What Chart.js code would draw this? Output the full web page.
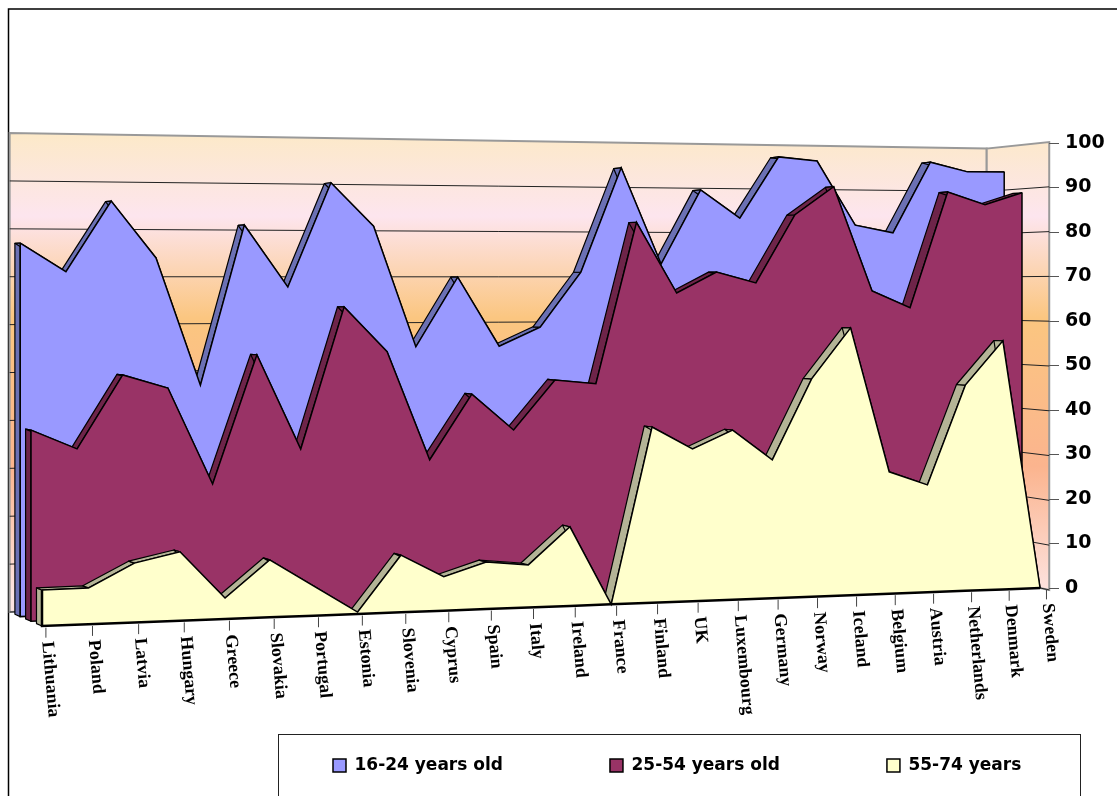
<!DOCTYPE html>
<html>
<head>
<meta charset="utf-8">
<title>Internet use by age group</title>
<script src="https://cdn.jsdelivr.net/npm/chart.js"></script>
<style>
html, body { margin: 0; padding: 0; background: #fff; }
canvas { display: block; }
</style>
</head>
<body>
<canvas id="chart" width="1117" height="796"></canvas>
<script>
const categories = ['Lithuania', 'Poland', 'Latvia', 'Hungary', 'Greece', 'Slovakia', 'Portugal', 'Estonia', 'Slovenia',
    'Cyprus', 'Spain', 'Italy', 'Ireland', 'France', 'Finland', 'UK', 'Luxembourg', 'Germany', 'Norway', 'Iceland',
    'Belgium', 'Austria', 'Netherlands', 'Denmark', 'Sweden'];

const young = [76.9, 71, 85.7, 73.9, 47.2, 80.9, 67.8, 90, 80.8, 54.9, 69.9, 54.9, 59, 71, 94, 72.8, 89.3, 83.1, 96.9, 96.1, 81.7, 80, 96.2, 94.1, 94.2];
const middle = [38.8, 34.8, 49.8, 47, 27, 53.7, 33.9, 63.6, 54.1, 31.1, 44.9, 37.1, 47.7, 46.8, 81.8, 66.4, 71, 68.6, 83.7, 90, 66.8, 63, 89.1, 86.3, 89.1];
const older = [7.2, 7.3, 12, 14, 4.3, 11.8, 6.1, 0.4, 11.9, 7.1, 9.9, 9, 16.8, 0, 37.7, 32.8, 36.7, 30.1, 47.6, 58.7, 26.9, 23.8, 45.8, 55.6, 0];
const floor = categories.map(() => 0);

const valueTicks = [0, 10, 20, 30, 40, 50, 60, 70, 80, 90, 100];

// depth of each layer in the 3D box: 0 is the front, 3 is the back wall
const WALL_DEPTH = 3;
const RIBBON = 0.5;
const FRONT_EDGE = -0.5;
const PX_PER_UNIT = 4.45;

// category index + value + depth -> canvas position (perspective box)
function project(chart, index, value, depth) {
    const xs = chart.scales.x;
    const ys = chart.scales.y;
    const t = xs.getDecimalForPixel(xs.getPixelForValue(index));
    const h = ys.getPixelForValue(0) - ys.getPixelForValue(value);
    const w = 1 + 0.123 * t + 0.0094 * depth;
    return {
        x: (42 + 1126 * t - 10.7 * depth) / w,
        y: (626 + 34.3 * t + 1.1 * depth - h * (1.123 - 0.0054 * depth)) / w
    };
}

function polygon(ctx, pts) {
    ctx.beginPath();
    pts.forEach((p, i) => i ? ctx.lineTo(p.x, p.y) : ctx.moveTo(p.x, p.y));
    ctx.closePath();
}

const box3d = {
    id: 'box3d',
    afterLayout(chart) {
        // legend sits in its own frame at the bottom, labels start at the floor edge
        const legend = chart.legend;
        const pad = legend.options.labels.padding;
        legend.left = 333 - pad;
        legend.right = 1500;
        legend.top = 757 - pad;
        legend.bottom = 796;
        chart.scales.x.top = 590;
    },
    afterDatasetsUpdate(chart) {
        chart.data.datasets.forEach((ds, n) => {
            chart.getDatasetMeta(n).data.forEach((pt, i) => {
                const p = project(chart, i, ds.data[i], ds.depth);
                pt.x = p.x;
                pt.y = p.y;
            });
        });
    },
    beforeDraw(chart) {
        const ctx = chart.ctx;
        ctx.save();
        ctx.fillStyle = '#fff';
        ctx.fillRect(0, 0, chart.width, chart.height);
        // outer frame
        ctx.strokeStyle = '#000';
        ctx.lineWidth = 1.5;
        ctx.beginPath();
        ctx.moveTo(8.5, 796);
        ctx.lineTo(8.5, 9);
        ctx.lineTo(1117, 9);
        ctx.stroke();
        // legend box
        ctx.lineWidth = 1;
        ctx.strokeStyle = '#222';
        ctx.strokeRect(278.5, 734.5, 802, 70);

        // walls
        const last = categories.length - 1;
        const grad = ctx.createLinearGradient(0, 133, 0, 596);
        grad.addColorStop(0, '#fce9c8');
        grad.addColorStop(0.18, '#fde5ee');
        grad.addColorStop(0.4, '#fbc680');
        grad.addColorStop(0.72, '#fbb48e');
        grad.addColorStop(1, '#fde4e2');
        const backWall = [project(chart, 0, 0, WALL_DEPTH), project(chart, 0, 100, WALL_DEPTH), project(chart, last, 100, WALL_DEPTH), project(chart, last, 0, WALL_DEPTH)];
        const sideWall = [project(chart, last, 0, WALL_DEPTH), project(chart, last, 100, WALL_DEPTH), project(chart, last, 100, FRONT_EDGE), project(chart, last, 0, FRONT_EDGE)];
        ctx.fillStyle = grad;
        ctx.strokeStyle = '#999';
        ctx.lineWidth = 2;
        [backWall, sideWall].forEach(wall => {
            polygon(ctx, wall);
            ctx.fill();
            ctx.stroke();
        });
        // gridlines run along both walls, the top one is just the gray wall edge
        ctx.strokeStyle = '#222';
        ctx.lineWidth = 1;
        chart.scales.y.ticks.filter(tick => tick.value < 100).forEach(tick => {
            const a = project(chart, 0, tick.value, WALL_DEPTH);
            const b = project(chart, last, tick.value, WALL_DEPTH);
            const c = project(chart, last, tick.value, FRONT_EDGE);
            ctx.beginPath();
            ctx.moveTo(a.x, a.y);
            ctx.lineTo(b.x, b.y);
            ctx.lineTo(c.x, c.y);
            ctx.stroke();
        });
        ctx.restore();

        // category labels follow the floor edge
        const xs = chart.scales.x;
        xs.getLabelItems(chart.chartArea).forEach((item, i) => {
            const p = project(chart, i, 0, -0.35);
            item.textOffset = 0;
            item.options.rotation = 85 * Math.PI / 180;
            item.options.textAlign = 'left';
            item.options.textBaseline = 'middle';
            item.options.translation = [p.x + 1, p.y + 14];
        });
    },
    // side faces of a layer go down first, its front face covers them
    beforeDatasetDraw(chart, args) {
        const ds = chart.data.datasets[args.index];
        if (ds.sideOf === undefined) return;
        const src = chart.data.datasets[ds.sideOf];
        const ctx = chart.ctx;
        const d = src.depth;
        ctx.save();
        ctx.fillStyle = src.sideColor;
        ctx.strokeStyle = '#000';
        ctx.lineWidth = 1.2;
        ctx.lineJoin = 'round';
        polygon(ctx, [project(chart, 0, 0, d), project(chart, 0, src.data[0], d), project(chart, 0, src.data[0], d + RIBBON), project(chart, 0, 0, d + RIBBON)]);
        ctx.fill();
        ctx.stroke();
        for (let i = 0; i < src.data.length - 1; i++) {
            polygon(ctx, [project(chart, i, src.data[i], d), project(chart, i + 1, src.data[i + 1], d),
                project(chart, i + 1, src.data[i + 1], d + RIBBON), project(chart, i, src.data[i], d + RIBBON)]);
            ctx.fill();
            ctx.stroke();
        }
        ctx.restore();
    },
    // close the outline of the front face
    afterDatasetDraw(chart, args) {
        const ds = chart.data.datasets[args.index];
        if (ds.sideColor === undefined) return;
        const ctx = chart.ctx;
        const last = ds.data.length - 1;
        ctx.save();
        ctx.strokeStyle = '#000';
        ctx.lineWidth = ds.depth === 0 ? 2.5 : 1.5;
        ctx.beginPath();
        let p = project(chart, 0, ds.data[0], ds.depth);
        ctx.moveTo(p.x, p.y);
        for (let i = 0; i <= last; i++) {
            p = project(chart, i, 0, ds.depth);
            ctx.lineTo(p.x, p.y);
        }
        p = project(chart, last, ds.data[last], ds.depth);
        ctx.lineTo(p.x, p.y);
        ctx.stroke();
        ctx.restore();
    },
    afterDraw(chart) {
        // tick marks under the floor edge
        const ctx = chart.ctx;
        ctx.save();
        ctx.strokeStyle = '#444';
        ctx.lineWidth = 1;
        categories.forEach((c, i) => {
            const p = project(chart, i, 0, -0.35);
            ctx.beginPath();
            ctx.moveTo(p.x, p.y);
            ctx.lineTo(p.x, p.y + 10);
            ctx.stroke();
        });
        ctx.restore();
    }
};

function layer(label, data, depth, color, sideColor, floorIndex, order) {
    return { label, data, depth, sideColor, backgroundColor: color, borderColor: '#000', borderWidth: 1.5,
        fill: floorIndex, order, pointRadius: 0, tension: 0, clip: false };
}

function floorLayer(sideOf, depth, order) {
    return { label: 'floor', data: floor, depth, sideOf, backgroundColor: 'transparent', borderColor: 'transparent', borderWidth: 0,
        fill: false, order, pointRadius: 0, clip: false };
}

new Chart(document.getElementById('chart'), {
    type: 'line',
    data: {
        labels: categories,
        datasets: [
            layer('16-24 years old', young, 2, '#9999ff', '#6b70b4', 3, 5),
            layer('25-54 years old', middle, 1, '#993366', '#6e2449', 4, 3),
            layer('55-74 years', older, 0, '#ffffcc', '#b4b496', 5, 1),
            floorLayer(0, 2, 6),
            floorLayer(1, 1, 4),
            floorLayer(2, 0, 2)
        ]
    },
    options: {
        responsive: false,
        animation: false,
        layout: { padding: { top: 130, left: 0, right: 0, bottom: 0 } },
        plugins: {
            title: { display: false },
            tooltip: { enabled: false },
            legend: {
                position: 'bottom',
                align: 'start',
                maxHeight: 1,
                labels: {
                    boxWidth: 13,
                    boxHeight: 13,
                    padding: 107,
                    color: '#000',
                    font: { family: '"DejaVu Sans", sans-serif', size: 17, weight: 'bold' },
                    filter: item => item.datasetIndex < 3,
                    sort: (a, b) => a.datasetIndex - b.datasetIndex
                }
            }
        },
        scales: {
            x: {
                type: 'category',
                offset: false,
                grid: { display: false },
                border: { display: false },
                afterFit: s => { s.height = 165; },
                ticks: {
                    autoSkip: false,
                    minRotation: 90,
                    maxRotation: 90,
                    color: '#000',
                    font: { family: '"Liberation Serif", "Times New Roman", serif', size: 18, weight: 'bold' }
                }
            },
            y: {
                position: 'right',
                min: -42 / PX_PER_UNIT,
                max: 100 + 13 / PX_PER_UNIT,
                afterBuildTicks: s => { s.ticks = valueTicks.map(value => ({ value })); },
                afterFit: s => { s.width = 68; },
                grid: { drawOnChartArea: false, drawTicks: true, tickLength: 10, color: '#555' },
                border: { display: false },
                ticks: {
                    autoSkip: false,
                    padding: 6,
                    color: '#000',
                    font: { family: '"DejaVu Sans", sans-serif', size: 19, weight: 'bold' }
                }
            }
        }
    },
    plugins: [box3d]
});
</script>
</body>
</html>
